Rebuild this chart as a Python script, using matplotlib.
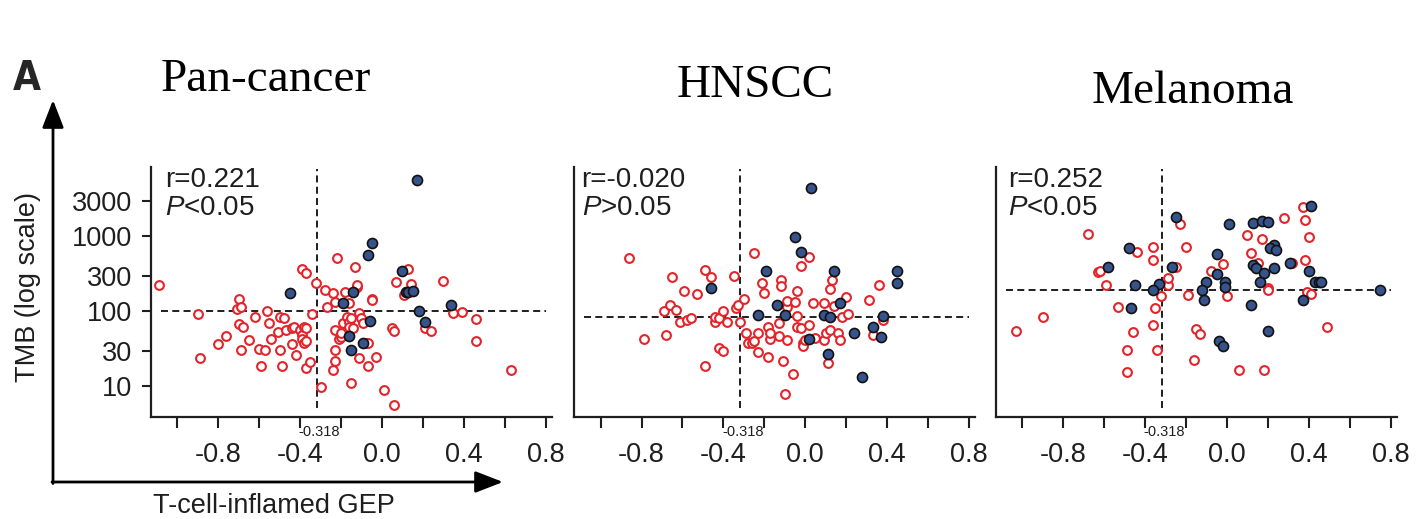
import matplotlib
matplotlib.use("Agg")
import matplotlib.pyplot as plt
from matplotlib import font_manager

plt.rcParams['font.family'] = ['Liberation Sans', 'DejaVu Sans']
plt.rcParams['mathtext.fontset'] = 'custom'
plt.rcParams['mathtext.rm'] = 'Liberation Sans'
plt.rcParams['mathtext.it'] = 'Liberation Sans:italic'

# ---------------- data ----------------
panel_titles = ["Pan-cancer", "HNSCC", "Melanoma"]
r_labels = ["r=0.221", "r=-0.020", "r=0.252"]
p_labels = ["<0.05", ">0.05", "<0.05"]
gep_cutoff = -0.318
tmb_cutoff = [100, 84, 191]

xtick_values = [-1.0, -0.8, -0.6, -0.4, -0.2, 0.0, 0.2, 0.4, 0.6, 0.8]
xtick_labels = ["", "-0.8", "", "-0.4", "", "0.0", "", "0.4", "", "0.8"]
ytick_values = [10, 30, 100, 300, 1000, 3000]
ytick_labels = ["10", "30", "100", "300", "1000", "3000"]

# Pan-cancer: non-responders (open red) and responders (filled blue)
pan_red_gep = [-1.09, -0.90, -0.89, -0.80, -0.76, -0.70, -0.71, -0.69, -0.70, -0.68,
               -0.69, -0.65, -0.62, -0.60, -0.59, -0.57, -0.56, -0.55, -0.54, -0.51,
               -0.50, -0.50, -0.49, -0.48, -0.47, -0.44, -0.44, -0.43, -0.42, -0.40,
               -0.39, -0.39, -0.38, -0.38, -0.37, -0.37, -0.37, -0.39, -0.37, -0.35,
               -0.34, -0.32, -0.30, -0.28, -0.27, -0.24, -0.23, -0.23, -0.23, -0.24,
               -0.23, -0.22, -0.21, -0.20, -0.20, -0.19, -0.18, -0.17, -0.16, -0.16,
               -0.16, -0.15, -0.15, -0.14, -0.13, -0.12, -0.12, -0.11, -0.11, -0.10,
               -0.09, -0.08, -0.07, -0.05, -0.05, -0.03, 0.01, 0.05, 0.06, 0.06,
               0.07, 0.13, 0.14, 0.11, 0.21, 0.24, 0.30, 0.35, 0.39, 0.46,
               0.46, 0.63, -0.07]
pan_red_tmb = [226, 93, 24, 37, 47, 147, 107, 116, 68, 63,
               31, 42, 85, 32, 19, 31, 100, 70, 43, 54,
               85, 31, 19, 81, 57, 37, 60, 63, 26, 57,
               49, 43, 63, 38, 41, 17.5, 60, 365, 323, 21,
               93, 238, 9.8, 194, 116, 178, 135, 57, 31, 16.6,
               22, 512, 43, 46, 52, 70, 184, 85, 73, 63,
               128, 81, 11, 60, 388, 214, 226, 95, 24, 81,
               70, 38, 19, 147, 142, 25, 9.0, 60, 55, 5.6,
               250, 365, 233, 166, 60, 55, 258, 95, 97, 80,
               40, 16.6, 38]
pan_blue_gep = [0.17, -0.05, -0.07, -0.45, -0.14, -0.19, 0.10, 0.12, 0.13, 0.15,
                0.18, 0.21, 0.34, -0.06, -0.16, -0.09, -0.15]
pan_blue_tmb = [5600, 811, 566, 175, 184, 128, 350, 184, 184, 188,
                100, 72, 122, 75, 47, 38, 31]

# HNSCC
hn_red_gep = [-0.86, -0.79, -0.69, -0.68, -0.66, -0.65, -0.63, -0.61, -0.59, -0.58,
              -0.56, -0.53, -0.49, -0.49, -0.46, -0.44, -0.44, -0.42, -0.42, -0.40,
              -0.40, -0.38, -0.35, -0.34, -0.33, -0.32, -0.30, -0.29, -0.28, -0.26,
              -0.25, -0.25, -0.23, -0.23, -0.21, -0.20, -0.18, -0.18, -0.17, -0.17,
              -0.13, -0.13, -0.12, -0.12, -0.11, -0.10, -0.09, -0.09, -0.09, -0.06,
              -0.05, -0.04, -0.04, -0.04, -0.02, -0.02, -0.01, -0.01, 0.00, 0.02,
              0.02, 0.04, 0.05, 0.09, 0.09, 0.10, 0.11, 0.12, 0.12, 0.13,
              0.14, 0.16, 0.17, 0.18, 0.20, 0.21, 0.31, 0.33, 0.36, 0.38]
hn_red_tmb = [516, 43, 100, 48, 121, 291, 105, 73, 188, 76,
              81, 169, 19, 357, 291, 73, 85, 33, 81, 100,
              30, 73, 300, 110, 122, 73, 145, 52, 38, 38,
              597, 40, 52, 29, 238, 175, 63, 24.5, 43, 51,
              70, 47, 263, 221, 22, 7.9, 116, 138, 42, 14.5,
              135, 190, 88, 63, 61, 404, 38, 35, 42, 538,
              66, 128, 44, 128, 42, 52, 20.4, 57, 200, 263,
              118, 51, 42, 85, 154, 92, 142, 49, 226, 77]
hn_blue_gep = [0.03, -0.05, -0.02, -0.19, 0.14, -0.46, -0.14, 0.17, -0.23, -0.10,
               0.09, 0.12, 0.38, 0.45, 0.45, 0.33, 0.37, 0.24, 0.02, 0.11, 0.28]
hn_blue_tmb = [4385, 995, 621, 347, 347, 204, 122, 128, 90, 90,
               90, 85, 87, 347, 242, 63, 45, 52, 43, 27, 13.5]

# Melanoma
mel_red_gep = [-1.03, -0.90, -0.68, -0.63, -0.62, -0.59, -0.53, -0.49, -0.49, -0.46,
               -0.44, -0.36, -0.36, -0.36, -0.35, -0.34, -0.32, -0.29, -0.29, -0.25,
               -0.23, -0.20, -0.19, -0.16, -0.15, -0.13, -0.08, -0.02, 0.00, 0.06,
               0.10, 0.12, 0.15, 0.17, 0.18, 0.20, 0.20, 0.28, 0.32, 0.37,
               0.38, 0.38, 0.39, 0.40, 0.41, 0.49]
mel_red_tmb = [55, 85, 1080, 333, 350, 223, 114, 15.5, 31, 54,
               628, 66, 717, 486, 110, 31, 161, 226, 282, 396,
               1468, 717, 166, 22.5, 58, 50, 350, 425, 161, 16.6,
               1038, 608, 439, 926, 16.6, 204, 194, 1746, 439, 2448,
               1660, 486, 184, 995, 171, 61.5]
mel_blue_gep = [0.41, -0.25, 0.01, 0.13, 0.17, 0.20, -0.48, 0.23, 0.21, 0.24,
                -0.05, -0.58, -0.27, 0.13, 0.14, 0.23, 0.31, 0.40, -0.05, 0.18,
                0.16, -0.01, -0.10, -0.45, -0.33, -0.36, -0.01, -0.12, -0.11, 0.12,
                0.37, 0.43, 0.45, 0.46, 0.75, -0.47, 0.20, -0.04, -0.02]
mel_blue_tmb = [2553, 1836, 1483, 1528, 1592, 1545, 710, 771, 695, 661,
                578, 396, 388, 417, 377, 377, 439, 350, 316, 330,
                250, 250, 245, 226, 233, 194, 210, 194, 141, 123,
                141, 250, 250, 250, 191, 112, 55.5, 40.8, 34.7]

red_sets = [(pan_red_gep, pan_red_tmb), (hn_red_gep, hn_red_tmb), (mel_red_gep, mel_red_tmb)]
blue_sets = [(pan_blue_gep, pan_blue_tmb), (hn_blue_gep, hn_blue_tmb), (mel_blue_gep, mel_blue_tmb)]

# ---------------- styling ----------------
RED = '#e3242b'
BLUE = '#36538b'
INK = '#1e1e1e'
W, H = 1416, 519

fig = plt.figure(figsize=(W / 100, H / 100), dpi=100)
fig.patch.set_facecolor('white')

# overlay in pixel units for the outer arrows and the free-standing labels
over = fig.add_axes([0, 0, 1, 1])
over.set_xlim(0, W)
over.set_ylim(H, 0)
over.axis('off')

arrow_kw = dict(arrowstyle='-|>,head_length=0.85,head_width=0.33', lw=2.0,
                color='black', mutation_scale=20, shrinkA=0, shrinkB=0)
over.annotate('', xy=(53, 100), xytext=(53, 483.5), arrowprops=arrow_kw)
over.annotate('', xy=(503, 482), xytext=(52, 482), arrowprops=arrow_kw)

names = {f.name for f in font_manager.fontManager.ttflist}
if 'Liberation Sans Narrow' in names:
    a_font = dict(family='Liberation Sans Narrow')
else:
    a_font = dict(family='DejaVu Sans', fontstretch='condensed')
over.text(27, 90, 'A', fontsize=29, fontweight='bold', color='#262626',
          ha='center', va='baseline', **a_font)

over.text(28, 287, 'TMB (log scale)', rotation=90, fontsize=19.5, color=INK,
          ha='center', va='center')
over.text(274, 513, 'T-cell-inflamed GEP', fontsize=19.5, color=INK,
          ha='center', va='baseline')

title_pos = [(266, 91), (755, 97), (1193, 103)]
for t, (tx, ty) in zip(panel_titles, title_pos):
    over.text(tx, ty, t, fontsize=34, family='Liberation Serif', color='black',
              ha='center', va='baseline')

lefts = [150.7, 574.0, 995.7]
ax_w, ax_h = 401.0, 250.0
ax_bottom_px = 416.7

for i in range(3):
    ax = fig.add_axes([lefts[i] / W, (H - ax_bottom_px) / H, ax_w / W, ax_h / H])
    ax.set_yscale('log')
    ax.set_xlim(-1.13, 0.83)
    ax.set_ylim(3.95, 8530)
    for s in ('top', 'right'):
        ax.spines[s].set_visible(False)
    for s in ('left', 'bottom'):
        ax.spines[s].set_linewidth(1.6)
        ax.spines[s].set_color(INK)

    ax.set_xticks(xtick_values)
    ax.set_xticklabels(xtick_labels)
    ax.tick_params(axis='x', direction='out', length=8, width=1.5, color=INK,
                   labelsize=19.5, labelcolor=INK, pad=10)
    ax.yaxis.set_minor_locator(matplotlib.ticker.NullLocator())
    if i == 0:
        ax.set_yticks(ytick_values)
        ax.set_yticklabels(ytick_labels)
        ax.tick_params(axis='y', direction='out', length=6.5, width=1.5, color=INK,
                       labelsize=19.5, labelcolor=INK, pad=7)
    else:
        ax.set_yticks([])

    # cut-off guides
    ax.axvline(gep_cutoff, ymin=0.035, ymax=0.99, color=INK, lw=1.4,
               dashes=(3.6, 2.2), zorder=1)
    ax.hlines(tmb_cutoff[i], -1.08, 0.80, color=INK, lw=1.4,
              linestyles=(0, (3.6, 2.2)), zorder=1)
    ax.text(-0.305, -0.063, '-0.318', transform=ax.get_xaxis_transform(),
            fontsize=10.5, color=INK, ha='center', va='center')

    rx, ry = red_sets[i]
    bx, by = blue_sets[i]
    ax.scatter(rx, ry, s=40, facecolors='white', edgecolors=RED, linewidths=1.5, zorder=3)
    ax.scatter(bx, by, s=52, facecolors=BLUE, edgecolors='#111111', linewidths=1.2, zorder=4)

    txt_x = [0.036, 0.019, 0.031][i]
    ax.text(txt_x, 0.92, r_labels[i], transform=ax.transAxes, fontsize=20,
            color=INK, ha='left', va='baseline')
    ax.text(txt_x, 0.807, r'$\mathit{P}$' + p_labels[i], transform=ax.transAxes,
            fontsize=20, color=INK, ha='left', va='baseline')

fig.savefig('out.png', dpi=100, facecolor='white')
